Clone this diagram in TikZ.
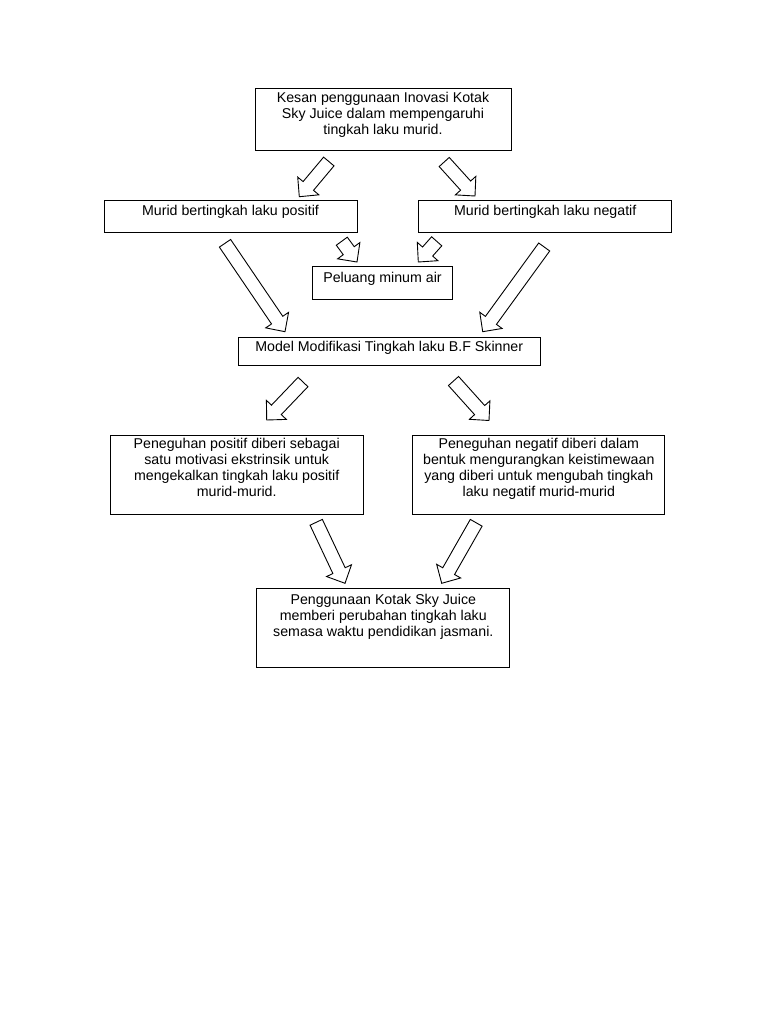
\documentclass[tikz,border=0pt]{standalone}
\usepackage{fontspec}
\setmainfont{Liberation Sans}
\usetikzlibrary{calc,positioning}
\def\shaftw{6.8pt}
\def\headw{13.8pt}
\def\headl{14pt}
\newcommand\fatarrow[2]{%
  \coordinate (neck) at ($(#2)!\headl!(#1)$);
  \draw[fat] ($(#1)!\shaftw!90:(#2)$) -- ($(neck)!\shaftw!90:(#2)$) -- ($(neck)!\headw!90:(#2)$) -- (#2)
    -- ($(neck)!\headw!-90:(#2)$) -- ($(neck)!\shaftw!-90:(#2)$) -- ($(#1)!\shaftw!-90:(#2)$) -- cycle;}
\tikzset{
  box/.style={draw, line width=1pt, inner sep=0pt},
  txt/.style={align=center, inner sep=0pt, font=\fontsize{14.2}{16}\selectfont},
  fat/.style={draw, fill=white, line width=0.9pt, line join=miter}
}
\begin{document}
\begin{tikzpicture}[x=1pt,y=-1pt]
			%%%%% START %%%%%
			\useasboundingbox[fill=white] (0,0) rectangle (768,1024);
			
			% base of a text node is its last line
			\node[box, minimum width=256pt, minimum height=62pt] (kesan) at (383,120) {};
			\node[txt, anchor=base] (kesan-t) at ([yshift=-45.7pt]kesan.north) {Kesan penggunaan Inovasi Kotak\\Sky Juice dalam mempengaruhi\\tingkah laku murid.};
			
			\node[box, minimum width=253pt, minimum height=32pt] (positif) at (230.5,217) {};
			\node[txt, anchor=base] (positif-t) at ([yshift=-15.4pt]positif.north) {Murid bertingkah laku positif};
			\node[box, minimum width=252.5pt, minimum height=32pt] (negatif) at (545.2,217) {};
			\node[txt, anchor=base] (negatif-t) at ([yshift=-15.4pt]negatif.north) {Murid bertingkah laku negatif};
			
			\node[box, minimum width=140.4pt, minimum height=33pt] (peluang) at (382.5,282.5) {};
			\node[txt, anchor=base] (peluang-t) at ([yshift=-17pt]peluang.north) {Peluang minum air};
			
			\node[box, minimum width=301.7pt, minimum height=27.7pt] (model) at (389.2,351.2) {};
			\node[txt, anchor=base] (model-t) at ([yshift=-14.7pt]model.north) {Model Modifikasi Tingkah laku B.F Skinner};
			
			\node[box, minimum width=253.3pt, minimum height=79pt] (pos) at (236.7,474.5) {};
			\node[txt, anchor=base] (pos-t) at ([yshift=-61.7pt]pos.north) {Peneguhan positif diberi sebagai\\satu motivasi ekstrinsik untuk\\mengekalkan tingkah laku positif\\murid-murid.};
			\node[box, minimum width=252.3pt, minimum height=79pt] (neg) at (538.8,474.5) {};
			\node[txt, anchor=base] (neg-t) at ([yshift=-61.7pt]neg.north) {Peneguhan negatif diberi dalam\\bentuk mengurangkan keistimewaan\\yang diberi untuk mengubah tingkah\\laku negatif murid-murid};
			
			\node[box, minimum width=253.3pt, minimum height=79pt] (hasil) at (383.3,627.8) {};
			\node[txt, anchor=base] (hasil-t) at ([yshift=-49pt]hasil.north) {Penggunaan Kotak Sky Juice\\memberi perubahan tingkah laku\\semasa waktu pendidikan jasmani.};
			
			% block arrows: tail -> tip
			\foreach \i/\xa/\ya/\xb/\yb in {1/328.8/161.5/299.3/196.7, 2/444.2/162/475/196,
				3/341.8/241.2/357/262, 4/436.7/241.3/418.3/262,
				5/225/243.3/285/331.7, 6/544.2/247/482.7/331.7,
				7/303/382/266.7/420, 8/453.5/381/489/420.5,
				9/316.2/522.3/345/583.3, 10/476.2/522.8/441.7/583.3}{
				\coordinate (tail\i) at (\xa,\ya);
				\coordinate (tip\i) at (\xb,\yb);
				\fatarrow{tail\i}{tip\i}
			}
			%%%%% END %%%%%
\end{tikzpicture}
\end{document}
